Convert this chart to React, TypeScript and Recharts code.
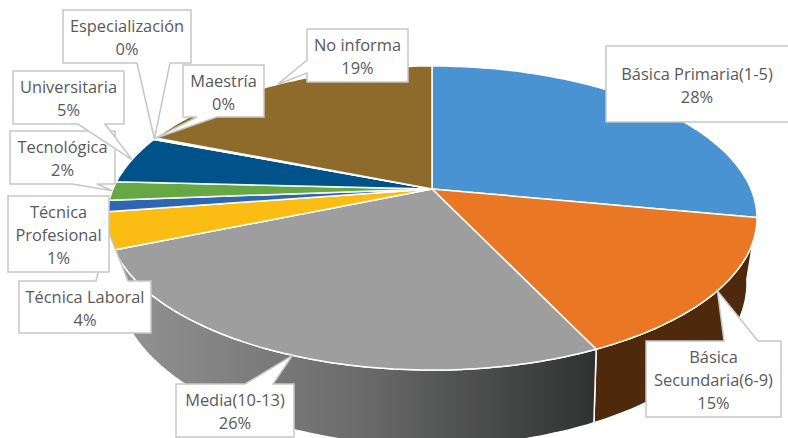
import { Pie, PieChart } from 'recharts'

const categories = [
  'Básica Primaria(1-5)', 'Básica\nSecundaria(6-9)', 'Media(10-13)', 'Técnica Laboral', 'Técnica\nProfesional',
  'Tecnológica', 'Universitaria', 'Especialización', 'Maestría', 'No informa',
]
const shares = [28, 15, 25.7, 3.9, 1.2, 2, 5.1, 0.1, 0.1, 18.9]
const topColors = ['#4a93d2', '#ea7724', '#9e9e9e', '#fbbc14', '#2e66b3', '#66a844', '#00538a', '#8f6b2b', '#8f6b2b', '#8f6b2b']
const wallColors = ['#2a5678', '#4e290c', 'url(#mediaWall)', '#8f6d0c', '#1b3c69', '#3c6328', '#003050', '#54401a', '#54401a', '#54401a']

// callout boxes, same order as categories. pointer = edge of the box and where it leaves that edge
type Callout = { x0: number; y0: number; x1: number; y1: number; edge?: 'top' | 'bottom' | 'left'; a?: number; b?: number }
const callouts: Callout[] = [
  { x0: 606, y0: 46, x1: 790, y1: 122 },
  { x0: 646, y0: 341, x1: 781, y1: 417, edge: 'top', a: 724, b: 758 },
  { x0: 176, y0: 384, x1: 294, y1: 437, edge: 'top', a: 245, b: 273 },
  { x0: 19, y0: 281, x1: 151, y1: 333, edge: 'top', a: 96, b: 128 },
  { x0: 8, y0: 196, x1: 109, y1: 272 },
  { x0: 10, y0: 131, x1: 115, y1: 184, edge: 'bottom', a: 72, b: 97 },
  { x0: 13, y0: 71, x1: 124, y1: 124, edge: 'bottom', a: 78, b: 105 },
  { x0: 63, y0: 10, x1: 191, y1: 63, edge: 'bottom', a: 137, b: 170 },
  { x0: 183, y0: 65, x1: 264, y1: 117, edge: 'bottom', a: 197, b: 217 },
  { x0: 307, y0: 29, x1: 408, y1: 82, edge: 'left', a: 60, b: 73 },
]

const chartData = categories.map((name, i) => ({ name, value: shares[i], top: topColors[i], wall: wallColors[i] }))

// perspective of the tilted disc: top face and base are the same circle seen through different projections
const topFace = { x: 432, y: 189, a: 319, b: 146.5, k: 0.1908 }
const baseFace = { x: 432, y: 248.8, a: 308, b: 155.8, k: 0.21 }
const project = (face: typeof topFace, angle: number) => {
  const rad = (angle * Math.PI) / 180
  const X = Math.cos(rad)
  const Y = Math.sin(rad)
  const w = 1 + face.k * Y
  return [face.x + (face.a * X) / w, face.y - (face.b * Y) / w]
}
const rim = (face: typeof topFace, start: number, end: number) => {
  const steps = Math.max(2, Math.ceil(Math.abs(end - start)))
  return Array.from({ length: steps + 1 }, (_, i) => project(face, start + ((end - start) * i) / steps))
}
const toPath = (points: number[][]) => 'M' + points.map((p) => `${p[0].toFixed(1)},${p[1].toFixed(1)}`).join('L') + 'Z'

function TopSlice(props: any) {
  const points = [[topFace.x, topFace.y], ...rim(topFace, props.startAngle, props.endAngle)]
  return <path d={toPath(points)} fill={props.top} stroke="#fff" strokeWidth={1.5} strokeLinejoin="round" />
}

function WallSlice(props: any) {
  const points = [...rim(topFace, props.startAngle, props.endAngle), ...rim(baseFace, props.endAngle, props.startAngle)]
  return <path d={toPath(points)} fill={props.wall} stroke="#fff" strokeWidth={1.5} strokeLinejoin="round" />
}

function CalloutLabel(props: any) {
  const { index, midAngle, percent, name } = props
  const box = callouts[index]
  const [tipX, tipY] = project(topFace, midAngle)
  const { x0, y0, x1, y1, edge, a, b } = box
  const points: number[][] = [[x0, y0]]
  if (edge === 'top') points.push([a!, y0], [tipX, tipY], [b!, y0])
  points.push([x1, y0], [x1, y1])
  if (edge === 'bottom') points.push([b!, y1], [tipX, tipY], [a!, y1])
  points.push([x0, y1])
  if (edge === 'left') points.push([x0, b!], [tipX, tipY], [x0, a!])
  const lines = [...name.split('\n'), `${Math.round(percent * 100)}%`]
  const lineHeight = 23
  const firstY = (y0 + y1) / 2 - ((lines.length - 1) * lineHeight) / 2 + 0.5
  return <g>
    <path d={toPath(points)} fill="#fff" stroke="#c6c6c6" strokeWidth={1.5} />
    {lines.map((line: string, i: number) => (
      <text key={i} x={(x0 + x1) / 2 - (index === 0 ? 1 : 0)} y={firstY + i * lineHeight} textAnchor="middle" dominantBaseline="central"
        fontFamily="'Open Sans', sans-serif" fontSize={16.4} fill="#595959">{line}</text>
    ))}
  </g>
}

export default function App() {
  return <div style={{ position: 'absolute', left: 0, top: 0, width: 788, height: 438, background: '#fff', overflow: 'hidden' }}>
    <PieChart width={788} height={438} margin={{ top: 0, right: 0, bottom: 0, left: 0 }}>
      <defs>
        <linearGradient id="mediaWall" gradientUnits="userSpaceOnUse" x1="120" y1="0" x2="597" y2="0">
          <stop offset="0%" stopColor="#939393" />
          <stop offset="50%" stopColor="#6a6b6a" />
          <stop offset="100%" stopColor="#2f3130" />
        </linearGradient>
      </defs>
      <Pie data={chartData} dataKey="value" nameKey="name" cx={432} cy={189} outerRadius={120} startAngle={90} endAngle={-270}
        shape={WallSlice} label={false} labelLine={false} isAnimationActive={false} />
      <Pie data={chartData} dataKey="value" nameKey="name" cx={432} cy={189} outerRadius={120} startAngle={90} endAngle={-270}
        shape={TopSlice} label={CalloutLabel} labelLine={false} isAnimationActive={false} />
    </PieChart>
  </div>
}
